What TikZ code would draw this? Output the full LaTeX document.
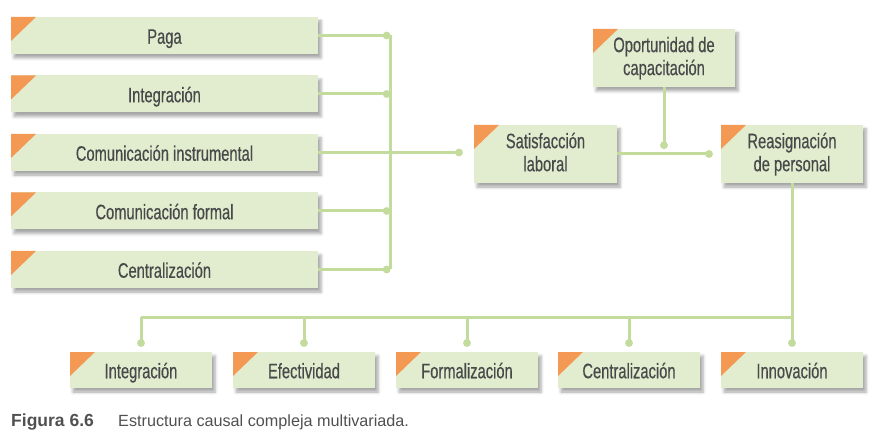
\documentclass[tikz,border=0pt]{standalone}
\usepackage{fontspec}
\usepackage{tikz}
\usetikzlibrary{arrows.meta, positioning, shadows.blur}
\setmainfont{Liberation Sans}
\newfontfamily\boxfont[FakeStretch=0.7, FakeBold=0.4]{Liberation Sans}
\definecolor{boxfill}{RGB}{226,237,207}
\definecolor{linkgreen}{RGB}{196,219,158}
\definecolor{corner}{RGB}{243,153,83}
\definecolor{boxtext}{RGB}{72,74,74}
\definecolor{captext}{RGB}{80,80,80}

\tikzset{
  varbox/.style={fill=boxfill, text=boxtext, inner sep=0pt, align=center,
    font=\boxfont\fontsize{21}{23}\selectfont,
    blur shadow={shadow xshift=3pt, shadow yshift=-4pt, shadow blur radius=3pt, shadow opacity=35},
    path picture={\fill[corner] (path picture bounding box.north west) -- ++(25pt,0pt) -- ++(-25pt,-24pt) -- cycle;}},
  wide/.style={varbox, minimum width=307pt, minimum height=37pt, text height=16.5pt, text depth=0pt},
  tall/.style={varbox, minimum width=142pt, minimum height=58pt, text depth=4pt},
  flat/.style={varbox, minimum width=142pt, minimum height=36pt, text height=16.5pt, text depth=0pt},
  link/.style={draw=linkgreen, line width=3pt},
  dotend/.style={link, -{Circle[length=7.6pt, width=7.6pt, fill=linkgreen]}}
}

\begin{document}
\begin{tikzpicture}[x=1pt, y=-1pt]
  \useasboundingbox (0,0) rectangle (874,435);

  % causes
  \node[wide] (paga)    at (164.5,35.5)  {Paga};
  \node[wide] (integ)   at (164.5,94)    {Integración};
  \node[wide] (cominst) at (164.5,152.5) {Comunicación instrumental};
  \node[wide] (comform) at (164.5,211)   {Comunicación formal};
  \node[wide] (centr)   at (164.5,269.5) {Centralización};

  % middle chain
  \node[tall, minimum width=143pt] (satisf) at (545.5,154) {Satisfacción\\laboral};
  \node[tall] (oport)  at (664,58)  {Oportunidad de\\capacitación};
  \node[tall] (reasig) at (792,154) {Reasignación\\de personal};

  % effects
  \node[flat] (efinteg)  at (141,370) {Integración};
  \node[flat] (efectiv)  at (304,370) {Efectividad};
  \node[flat] (efformal) at (467,370) {Formalización};
  \node[flat] (efcentr)  at (629,370) {Centralización};
  \node[flat] (efinnov)  at (792,370) {Innovación};

  \coordinate (bus) at (390.5,0);
  \coordinate (busb) at (0,317);

  \foreach \n in {paga,integ,comform,centr}
    \draw[dotend] (\n.east) -- (\n.east -| bus);
  \draw[link] (paga.east -| bus) -- (centr.east -| bus);
  \draw[dotend, shorten >=11pt] (cominst.east) -- (cominst.east -| satisf.west);

  \draw[dotend, shorten >=5pt] (oport.south) -- (oport.south |- satisf.east);
  \draw[dotend, shorten >=8pt] (satisf.east) -- (reasig.west);

  \draw[link] (reasig.south) -- (reasig.south |- busb) -- (efinteg.north |- busb);
  \foreach \o in {efinteg,efectiv,efformal,efcentr,efinnov}
    \draw[dotend, shorten >=5pt] (\o.north |- busb) -- (\o.north);

  % caption
  \node[anchor=base west, inner sep=0pt, text=captext, font=\bfseries\fontsize{17.5}{20}\selectfont] (figlabel) at (11,426) {Figura 6.6};
  \node[anchor=base west, inner sep=0pt, text=captext, font=\fontsize{16.2}{20}\selectfont] (figtext) at (118,426) {Estructura causal compleja multivariada.};
\end{tikzpicture}
\end{document}
